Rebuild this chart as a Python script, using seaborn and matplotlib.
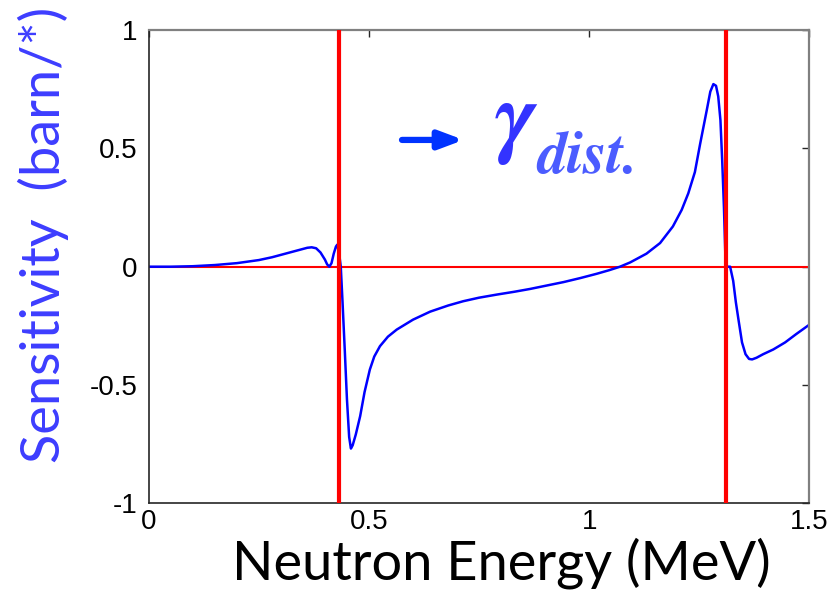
import numpy as np
import pandas as pd
import matplotlib
matplotlib.use("Agg")
import matplotlib.pyplot as plt
import seaborn as sns

# Sensitivity profile vs neutron energy
energy_mev = [
    0.00, 0.05, 0.10, 0.15, 0.20, 0.25, 0.28, 0.31, 0.34, 0.36, 0.37, 0.38,
    0.39, 0.40, 0.405, 0.41, 0.415, 0.42, 0.425, 0.428, 0.432, 0.436, 0.440,
    0.445, 0.450, 0.455, 0.459, 0.463, 0.470, 0.480, 0.490, 0.502, 0.512,
    0.525, 0.543, 0.563, 0.600, 0.639, 0.680, 0.714, 0.750, 0.790, 0.830,
    0.866, 0.900, 0.942, 0.980, 1.017, 1.045, 1.070, 1.093, 1.130, 1.161,
    1.190, 1.210, 1.225, 1.240, 1.252, 1.267, 1.275, 1.282, 1.288, 1.293,
    1.298, 1.302, 1.306, 1.309, 1.311, 1.320, 1.327, 1.333, 1.339, 1.347,
    1.355, 1.363, 1.370, 1.380, 1.395, 1.418, 1.445, 1.470, 1.500,
]
sensitivity = [
    0.000, 0.000, 0.002, 0.007, 0.015, 0.028, 0.040, 0.055, 0.070, 0.080, 0.082, 0.078,
    0.060, 0.030, 0.010, 0.000, 0.015, 0.055, 0.085, 0.093, 0.060, 0.000, -0.150,
    -0.350, -0.560, -0.720, -0.769, -0.755, -0.710, -0.632, -0.530, -0.435, -0.380,
    -0.336, -0.296, -0.266, -0.224, -0.190, -0.164, -0.146, -0.131, -0.118, -0.106,
    -0.094, -0.081, -0.065, -0.048, -0.030, -0.015, 0.000, 0.018, 0.055, 0.100,
    0.170, 0.240, 0.310, 0.400, 0.520, 0.662, 0.740, 0.772, 0.765, 0.720,
    0.620, 0.450, 0.250, 0.060, 0.000, 0.000, -0.060, -0.150, -0.224, -0.320,
    -0.370, -0.390, -0.392, -0.385, -0.370, -0.350, -0.320, -0.285, -0.245,
]
marker_energies = [0.432, 1.311]
x_ticks = [0, 0.5, 1, 1.5]
x_tick_labels = ["0", "0.5", "1", "1.5"]
y_ticks = [-1, -0.5, 0, 0.5, 1]
y_tick_labels = ["-1", "-0.5", "0", "0.5", "1"]

df = pd.DataFrame({"energy": energy_mev, "sens": sensitivity})

sns.set_theme(style="white")
plt.rcParams["font.family"] = ["Liberation Sans", "DejaVu Sans"]

fig = plt.figure(figsize=(8.31, 5.92), dpi=100)
ax = fig.add_axes([0.179, 0.150, 0.795, 0.799])

ax.axhline(0, color="#ff0000", lw=1.5, zorder=1)
sns.lineplot(data=df, x="energy", y="sens", ax=ax, color="#0000ff", lw=1.8,
             zorder=2, sort=False)
for e in marker_energies:
    ax.axvline(e, color="#ff0000", lw=3.0, zorder=3)

ax.set_xlim(0, 1.5)
ax.set_ylim(-1, 1)
ax.set_xticks(x_ticks)
ax.set_xticklabels(x_tick_labels)
ax.set_yticks(y_ticks)
ax.set_yticklabels(y_tick_labels)
ax.tick_params(direction="in", length=5, width=1, colors="#262626",
               labelsize=20, top=True, right=True, pad=8)
ax.tick_params(axis="x", pad=4)
for lab in ax.get_xticklabels() + ax.get_yticklabels():
    lab.set_color("black")

for side in ("left", "bottom"):
    ax.spines[side].set_color("#262626")
    ax.spines[side].set_linewidth(1.2)
for side in ("top", "right"):
    ax.spines[side].set_color("#808080")
    ax.spines[side].set_linewidth(1.6)

ax.set_xlabel("Neutron Energy (MeV)", fontsize=39, color="black",
              family=["Lato", "DejaVu Sans"], va="baseline")
ax.xaxis.set_label_coords(0.533, -0.1607)
ax.set_ylabel("Sensitivity  (barn/*)", fontsize=39, color="#3d3dff",
              family=["Lato", "DejaVu Sans"])
ax.yaxis.set_label_coords(-0.12, 0.567)

# arrow and gamma_dist. label
ax.annotate("", xy=(0.715, 0.536), xytext=(0.575, 0.536),
            arrowprops=dict(arrowstyle="-|>,head_length=1.2,head_width=0.45",
                            color="#0033ff", lw=4.5, shrinkA=0, shrinkB=0))
ax.text(0.786, 0.51, "γ", fontsize=66, color="#3333ff",
        family=["STIXGeneral", "DejaVu Serif"], style="italic",
        weight="bold", ha="left", va="baseline")
ax.text(0.882, 0.397, "dist.", fontsize=43, color="#4b5cff",
        family=["STIXGeneral", "DejaVu Serif"], style="italic",
        weight="bold", ha="left", va="baseline")

fig.savefig("out.png", dpi=100)
